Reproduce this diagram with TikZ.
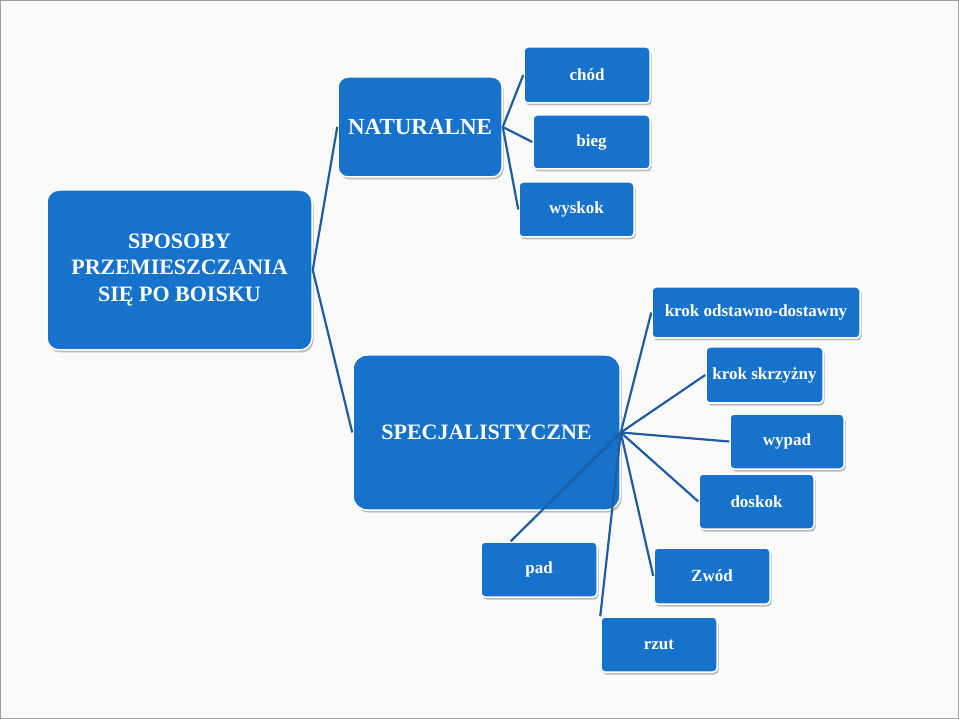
\documentclass[tikz,border=0pt]{standalone}
\usepackage{fontspec}
\setmainfont{Liberation Serif}
\usetikzlibrary{shadows,calc}
\definecolor{boxblue}{RGB}{22,114,202}
\definecolor{lineblue}{RGB}{32,92,160}
\definecolor{bgcol}{RGB}{250,250,250}
\begin{document}
\begin{tikzpicture}[x=1pt,y=-1pt,
  box/.style={rectangle, fill=boxblue, draw=white, line width=1.5pt, text=white,
    align=center, inner sep=0pt,
    drop shadow={shadow xshift=1.5pt, shadow yshift=-2.5pt, opacity=0.25, fill=black}},
  bigbox/.style={box, rounded corners=12pt},
  leaf/.style={box, rounded corners=4pt, font=\bfseries\fontsize{17}{20}\selectfont},
  link/.style={draw=lineblue, line width=2.2pt}]
\useasboundingbox (0,0) rectangle (959,719);
\fill[bgcol] (0,0) rectangle (959,719);
\draw[gray!75, line width=1pt] (0.5,0.5) rectangle (958.5,718.5);

% main nodes
\node[bigbox, minimum width=265pt, minimum height=160pt,
  font=\bfseries\fontsize{22}{26.5}\selectfont] (main) at (179.5,270)
  {SPOSOBY\\PRZEMIESZCZANIA\\SIĘ PO BOISKU};
\node[bigbox, rounded corners=10pt, minimum width=164pt, minimum height=100pt,
  font=\bfseries\fontsize{23}{27}\selectfont] (nat) at (420,127) {NATURALNE};
\node[bigbox, rounded corners=14pt, minimum width=267pt, minimum height=155pt,
  font=\bfseries\fontsize{22}{26}\selectfont] (spec) at (486.5,432.5) {SPECJALISTYCZNE};

% natural leaves
\node[leaf, minimum width=126pt, minimum height=56pt] (chod) at (587,75) {chód};
\node[leaf, minimum width=117pt, minimum height=54pt] (bieg) at (591.5,142) {bieg};
\node[leaf, minimum width=115pt, minimum height=55pt] (wyskok) at (576.5,209.5) {wyskok};

% specialist leaves
\node[leaf, minimum width=208pt, minimum height=51pt] (krokod) at (756,312.5) {krok odstawno-dostawny};
\node[leaf, minimum width=117pt, minimum height=56pt] (krokskrz) at (764.5,375) {krok skrzyżny};
\node[leaf, minimum width=114pt, minimum height=55pt] (wypad) at (787,441.5) {wypad};
\node[leaf, minimum width=115pt, minimum height=55pt] (doskok) at (756.5,501.5) {doskok};
\node[leaf, minimum width=116pt, minimum height=56pt] (zwod) at (712,576) {Zwód};
\node[leaf, minimum width=116pt, minimum height=55pt] (rzut) at (659,644.5) {rzut};
\node[leaf, minimum width=116pt, minimum height=55pt] (pad) at (539,569.5) {pad};

% connectors
\draw[link] (main.east) -- (nat.west);
\draw[link] (main.east) -- (spec.west);
\draw[link] (nat.east) -- (chod.west);
\draw[link] (nat.east) -- (bieg.west);
\draw[link] (nat.east) -- (wyskok.west);
\draw[link] (spec.east) -- (krokod.west);
\draw[link] (spec.east) -- (krokskrz.west);
\draw[link] (spec.east) -- (wypad.west);
\draw[link] (spec.east) -- (doskok.west);
\draw[link] (spec.east) -- (zwod.west);
\draw[link] (spec.east) -- (rzut.north west);
\draw[link] (spec.east) -- (pad.135);
\end{tikzpicture}
\end{document}
